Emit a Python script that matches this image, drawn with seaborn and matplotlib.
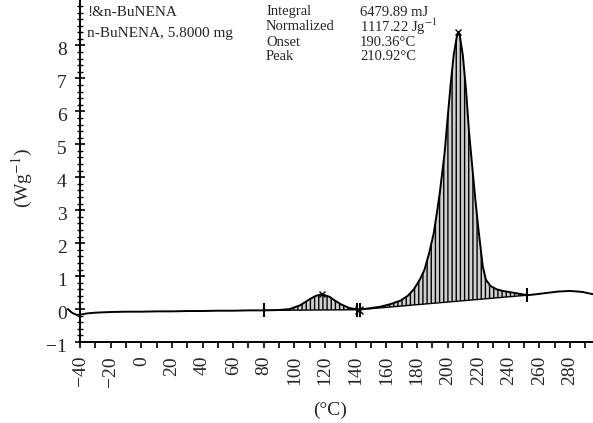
import numpy as np
import pandas as pd
import matplotlib
matplotlib.use("Agg")
import matplotlib.pyplot as plt
import matplotlib.transforms as mtransforms
import seaborn as sns

# DSC curve
temp = [-48, -45, -42, -40, -35, -30, -20, -10, 0, 10, 20, 30, 40, 50, 60, 70, 80,
        90, 97, 104, 110, 114, 118, 123, 127, 131, 136, 142,
        150, 156, 162, 169, 174, 178, 182, 185, 188, 191, 193, 195, 198, 200, 202,
        204, 206, 207, 208, 210, 212, 214, 216, 218, 220, 221.5, 223, 225, 228,
        232, 236, 240, 245, 252, 258, 265, 272, 280, 288, 295]
heat = [0.0, -0.12, -0.18, -0.17, -0.13, -0.11, -0.09, -0.08, -0.08, -0.07, -0.07, -0.06,
        -0.06, -0.05, -0.05, -0.04, -0.04,
        -0.03, 0.0, 0.12, 0.3, 0.4, 0.45, 0.37, 0.24, 0.13, 0.03, -0.02,
        0.03, 0.07, 0.14, 0.25, 0.4, 0.6, 0.9, 1.2, 1.7, 2.3, 2.9, 3.55, 4.7, 5.76, 6.8,
        7.7, 8.25, 8.4, 8.3, 7.7, 6.7, 5.4, 4.4, 3.4, 2.5, 1.9, 1.3, 0.9, 0.7,
        0.6, 0.55, 0.52, 0.48, 0.42, 0.45, 0.49, 0.53, 0.55, 0.52, 0.45]

# integration limits and peak positions
limits1 = [80, 142]
limits2 = [142, 252]
peak_t = [118, 207]
peak_h = [0.45, 8.4]

xticks = list(range(-40, 300, 20))
yticks = list(range(-1, 9))

info_labels = ["Integral", "Normalized", "Onset", "Peak"]
info_values = ["6479.89 mJ", "1117.22 Jg$^{-1}$", "190.36°C", "210.92°C"]
header = ["!&n-BuNENA", "n-BuNENA, 5.8000 mg"]

df = pd.DataFrame({"T": temp, "Q": heat})

sns.set_theme(style="ticks")
plt.rcParams['font.family'] = ['Liberation Serif', 'DejaVu Serif']
plt.rcParams['mathtext.fontset'] = 'stix'
plt.rcParams['hatch.linewidth'] = 1.0
plt.rcParams['hatch.color'] = 'black'

W, H = 593, 423
fig = plt.figure(figsize=(W / 100, H / 100), dpi=100)
ax = fig.add_axes([80 / W, 1 - 342 / H, (W - 80) / W, 342 / H])


def value_at(t):
    return df.loc[df["T"] == t, "Q"].iloc[0]


# hatched areas between curve and straight baseline
for a, b in (limits1, limits2):
    seg = df[(df["T"] >= a) & (df["T"] <= b)]
    ax.fill(seg["T"], seg["Q"], facecolor='#d0d0d0', edgecolor='black',
            hatch='||||', linewidth=0, zorder=1)
    ax.plot([a, b], [value_at(a), value_at(b)], color='black', lw=1.0, zorder=2)

sns.lineplot(data=df, x="T", y="Q", color='black', lw=1.4, sort=False,
             estimator=None, ax=ax, zorder=3, clip_on=False)

# limit and peak markers
lim_t = [80, 141, 143, 252]
lim_q = [value_at(80), value_at(142), value_at(142), value_at(252)]
ax.plot(lim_t, lim_q, ls='none', marker='|', ms=10, mew=1.5, color='black', zorder=4)
ax.plot([142], [value_at(142)], ls='none', marker='x', ms=6, mew=1.0, color='black', zorder=4)
ax.plot(peak_t, peak_h, ls='none', marker='x', ms=5, mew=1.0, color='black', zorder=4)

ax.set_xlim(-40, 295)
ax.set_ylim(-1, 9.38)
ax.set_xticks(xticks)
ax.set_xticklabels([str(t).replace('-', '\u2212') for t in xticks], rotation=90)
ax.set_xticks(list(range(-40, 300, 10)), minor=True)
ax.set_yticks(yticks)
ax.set_yticklabels([str(t).replace('-', '\u2212') for t in yticks])
ax.set_yticks(np.arange(-1, 9.3, 0.2), minor=True)
ax.tick_params(axis='x', which='both', direction='out', length=4, width=1.2,
               labelsize=14, pad=6, color='black')
ax.tick_params(axis='y', which='major', direction='inout', length=7, width=1.2,
               labelsize=14, pad=6, color='black')
ax.tick_params(axis='y', which='minor', direction='inout', length=5, width=1.0,
               color='black')
# y tick labels sit a few pixels lower than their ticks in the reference
shift = mtransforms.ScaledTranslation(0, -3.5 / 100, fig.dpi_scale_trans)
for lab in ax.get_yticklabels():
    lab.set_transform(lab.get_transform() + shift)
for s in ('top', 'right'):
    ax.spines[s].set_visible(False)
for s in ('left', 'bottom'):
    ax.spines[s].set_linewidth(1.4)
    ax.spines[s].set_color('black')
ax.set_xlabel("")
ax.set_ylabel("")

fig.text(22 / W, 1 - 178 / H, "(Wg$^{-1}$)", rotation=90, ha='center', va='center', fontsize=14)
fig.text(330 / W, 1 - 410 / H, "(°C)", ha='center', va='center', fontsize=14)

fig.text(87 / W, 1 - 13 / H, header[0], ha='left', va='center', fontsize=11)
fig.text(87 / W, 1 - 33 / H, header[1], ha='left', va='center', fontsize=11)
for i, (lab, val) in enumerate(zip(info_labels, info_values)):
    y = [12, 27, 42, 57][i]
    fig.text(266 / W, 1 - y / H, lab, ha='left', va='center', fontsize=10.5)
    fig.text(360 / W, 1 - y / H, val, ha='left', va='center', fontsize=10.5)

fig.savefig("out.png", dpi=100)
